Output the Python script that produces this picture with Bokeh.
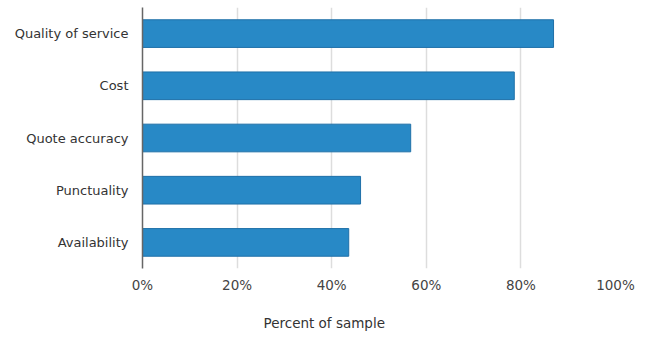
from bokeh.plotting import figure
from bokeh.models import Range1d, FactorRange, FixedTicker, PrintfTickFormatter, Title, ColumnDataSource
from bokeh.embed import file_html
from bokeh.resources import INLINE

categories = ["Quality of service", "Cost", "Quote accuracy", "Punctuality", "Availability"]
percent = [86.9, 78.6, 56.7, 46.1, 43.6]
ticks = [0, 20, 40, 60, 80, 100]
axis_title = "Percent of sample"

FONT = "DejaVu Sans"

src = ColumnDataSource(dict(cat=categories, val=percent))

p = figure(width=650, height=351, output_backend="svg", toolbar_location=None,
           x_range=Range1d(0, 100), y_range=FactorRange(factors=categories[::-1], range_padding=0),
           min_border_left=142, min_border_right=35, min_border_top=7, min_border_bottom=83)
p.outline_line_color = None
p.background_fill_color = "white"
p.border_fill_color = "white"

p.hbar(y="cat", right="val", left=0, height=0.53, source=src,
       fill_color="#2889c6", line_color="#1f70a8", line_width=1)

# x axis
xa = p.xaxis[0]
xa.ticker = FixedTicker(ticks=ticks)
xa.formatter = PrintfTickFormatter(format="%d%%")
xa.axis_line_color = None
xa.major_tick_line_color = None
xa.major_tick_out = 0
xa.major_tick_in = 0
xa.minor_tick_line_color = None
xa.major_label_standoff = 8
xa.major_label_text_font = FONT
xa.major_label_text_font_size = "13.5px"
xa.major_label_text_color = "#444444"

# y axis
ya = p.yaxis[0]
ya.axis_line_color = "#666666"
ya.axis_line_width = 1.5
ya.major_tick_line_color = None
ya.major_tick_out = 0
ya.major_tick_in = 0
ya.minor_tick_line_color = None
ya.major_label_standoff = 14
ya.major_label_text_font = FONT
ya.major_label_text_font_size = "13px"
ya.major_label_text_color = "#333333"

p.xgrid.ticker = FixedTicker(ticks=ticks[1:])
p.xgrid.grid_line_color = "#dddddd"
p.xgrid.grid_line_width = 1.5
p.ygrid.grid_line_color = None

p.add_layout(Title(text=axis_title, align="left", offset=121, standoff=34,
                   text_font=FONT, text_font_size="13.5px", text_font_style="normal",
                   text_color="#333333"), "below")

open("out.html", "w").write(file_html(p, INLINE))
